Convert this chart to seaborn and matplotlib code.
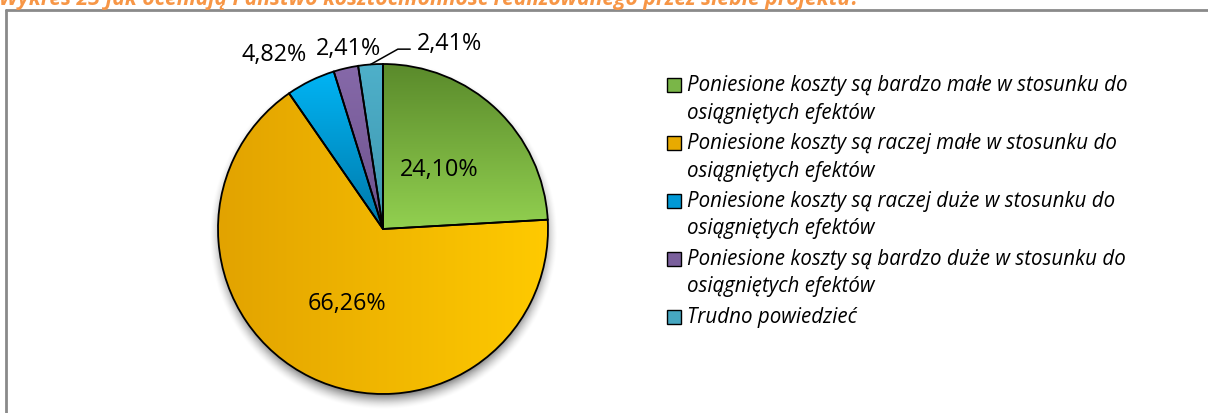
import numpy as np
import matplotlib
matplotlib.use("Agg")
import matplotlib.pyplot as plt
from matplotlib.colors import LinearSegmentedColormap
from matplotlib.patches import Rectangle
from matplotlib.lines import Line2D
import seaborn as sns

# --- data -------------------------------------------------------------
title = "Wykres 23 Jak oceniają Państwo kosztochłonność realizowanego przez siebie projektu?"
categories = [
    "Poniesione koszty są bardzo małe w stosunku do osiągniętych efektów",
    "Poniesione koszty są raczej małe w stosunku do osiągniętych efektów",
    "Poniesione koszty są raczej duże w stosunku do osiągniętych efektów",
    "Poniesione koszty są bardzo duże w stosunku do osiągniętych efektów",
    "Trudno powiedzieć",
]
shares = [24.10, 66.26, 4.82, 2.41, 2.41]

# --- styling ----------------------------------------------------------
# (start, end) of each slice's linear fill, and the fill direction
slice_gradients = [
    ("#5a8a2b", "#92d050"),
    ("#e2a300", "#ffca00"),
    ("#00b4f4", "#0078a8"),
    ("#8669a9", "#6c528c"),
    ("#4eb0ca", "#3e96ae"),
]
gradient_dirs = ["vertical", "horizontal", "vertical", "vertical", "vertical"]
legend_swatch = ["#7ab648", "#e8aa00", "#0099d6", "#7a5f9c", "#46a7c1"]

W, H = 1208, 414
sns.set_theme(style="white")
plt.rcParams["font.family"] = ["Open Sans", "DejaVu Sans"]

fig = plt.figure(figsize=(W / 100, H / 100), dpi=100)
fig.patch.set_facecolor("white")


def fx(px):
    return px / W


def fy(py):
    return 1 - py / H


# pie axes: one data unit = pie radius in pixels
cx, cy, R = 383, 230, 165
span = 1.35
ax = fig.add_axes([(cx - span * R) / W, (H - cy - span * R) / H,
                   2 * span * R / W, 2 * span * R / H])

wedges, _ = ax.pie(shares, startangle=90, counterclock=False, radius=1,
                   wedgeprops=dict(edgecolor="black", linewidth=1.3))

# soft drop shadow under the pie
g = np.linspace(-1.3, 1.3, 500)
X, Y = np.meshgrid(g, g)
d = np.hypot(X, Y + 0.035)
alpha = np.clip((1.06 - d) / 0.10, 0, 1) ** 1.6 * 0.55
shadow = np.zeros((500, 500, 4))
shadow[..., 3] = alpha
ax.imshow(shadow, extent=(-1.3, 1.3, -1.3, 1.3), origin="lower",
          zorder=1, interpolation="bilinear")

# gradient fills clipped to each wedge
n = 256
for w, (c0, c1), direction in zip(wedges, slice_gradients, gradient_dirs):
    ext = w.get_path().get_extents()
    if direction == "vertical":
        arr = np.repeat(np.linspace(1, 0, n)[:, None], 2, axis=1)
    else:
        arr = np.repeat(np.linspace(0, 1, n)[None, :], 2, axis=0)
    cmap = LinearSegmentedColormap.from_list("fill", [c0, c1])
    im = ax.imshow(arr, cmap=cmap, vmin=0, vmax=1,
                   extent=(ext.x0, ext.x1, ext.y0, ext.y1),
                   origin="lower", interpolation="bilinear", zorder=2)
    im.set_clip_path(w)
    w.set_facecolor("none")
    w.set_zorder(3)

ax.set_xlim(-span, span)
ax.set_ylim(-span, span)
ax.set_aspect("equal")
ax.axis("off")


def fmt(v):
    return f"{v:.2f}%".replace(".", ",")


label_size = 16.8
# labels inside the two large slices, half-way along the mid angle
cum = np.cumsum([0] + shares)
for i in (0, 1):
    mid = np.deg2rad(90 - (cum[i] + shares[i] / 2) * 3.6)
    ax.text(0.5 * np.cos(mid), 0.5 * np.sin(mid), fmt(shares[i]),
            ha="center", va="center", fontsize=label_size, color="#000000",
            zorder=5)

# labels outside the three thin slices
outside_pos = {2: (-0.66, 1.06), 3: (-0.21, 1.10), 4: (0.40, 1.13)}
for i, (x, y) in outside_pos.items():
    ax.text(x, y, fmt(shares[i]), ha="center", va="center",
            fontsize=label_size, color="#000000", zorder=5)

# leader line for the last slice
mid4 = np.deg2rad(90 - (cum[4] + shares[4] / 2) * 3.6)
ax.add_line(Line2D([np.cos(mid4), 0.09, 0.165],
                   [np.sin(mid4), 1.09, 1.09],
                   color="black", lw=1.1, zorder=5, clip_on=False))

# --- legend -----------------------------------------------------------
legend_size = 14.8
first_y = 86
step = 58
wrap_gap = 27
for i, label in enumerate(categories):
    y = first_y + i * step
    fig.add_artist(Rectangle((fx(667), fy(y + 7)), 14 / W, 14 / H,
                             transform=fig.transFigure,
                             facecolor=legend_swatch[i], edgecolor="black",
                             linewidth=1.0))
    if " osiągniętych" in label:
        first, second = label.split(" osiągniętych")
        lines = [first, "osiągniętych" + second]
    else:
        lines = [label]
    for k, line in enumerate(lines):
        fig.text(fx(687), fy(y + k * wrap_gap), line, fontsize=legend_size,
                 style="italic", ha="left", va="center", color="#000000")

# --- frame and (clipped) heading -------------------------------------
fig.add_artist(Line2D([fx(6), 1.0], [fy(10.5), fy(10.5)],
                      transform=fig.transFigure, color="#8a8a8a", lw=2.0))
fig.add_artist(Line2D([fx(6), fx(6)], [fy(10.5), 0.0],
                      transform=fig.transFigure, color="#8a8a8a", lw=2.0))
fig.text(fx(-1), fy(5.5), title, fontsize=15.2, fontweight="bold",
         style="italic", color="#f79646", ha="left", va="baseline")

fig.savefig("out.png", dpi=100, facecolor="white")
